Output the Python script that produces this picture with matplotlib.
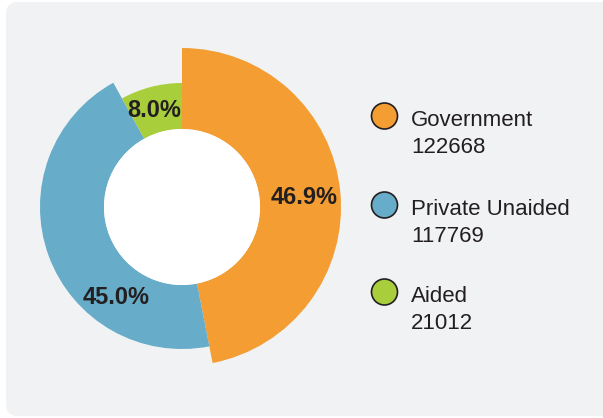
import matplotlib
matplotlib.use("Agg")
import matplotlib.pyplot as plt
from matplotlib.patches import Wedge, FancyBboxPatch, Circle
import numpy as np

# data
categories = ["Government", "Private Unaided", "Aided"]
counts = [122668, 117769, 21012]
colors = ["#f39d32", "#67acc8", "#a8ce3c"]

# look
outer_r = [159, 142, 124]
inner_r = 78
center = (182, 207)
label_ang = [4.6, 234, 106]
label_r = [123, 112, 100]
txt = "#231f20"

plt.rcParams["font.family"] = ["Liberation Sans", "DejaVu Sans"]

fig = plt.figure(figsize=(6.03, 4.18), dpi=100)
ax = fig.add_axes([0, 0, 1, 1])
ax.set_xlim(0, 603)
ax.set_ylim(418, 0)
ax.axis("off")

# background panel
ax.add_patch(FancyBboxPatch((6, 2), 620, 414, boxstyle="round,pad=0,rounding_size=12",
                            fc="#f1f2f4", ec="none"))

total = sum(counts)
fracs = [c / total for c in counts]

# clockwise from the top; y axis is flipped so angles go the other way on screen
start = -90.0
for i, f in enumerate(fracs):
    span = f * 360
    ax.add_patch(Wedge(center, outer_r[i], start, start + span,
                       width=outer_r[i] - inner_r, fc=colors[i], ec="none"))
    start += span

ax.add_patch(Circle(center, inner_r, fc="white", ec="none"))

for i, f in enumerate(fracs):
    a = np.deg2rad(label_ang[i])
    x = center[0] + label_r[i] * np.cos(a)
    y = center[1] - label_r[i] * np.sin(a)
    ax.text(x, y, f"{f * 100:.1f}%", ha="center", va="center",
            fontsize=17, fontweight="bold", color=txt)

# legend
leg_y = [116, 205, 292]
for i, name in enumerate(categories):
    ax.add_patch(Circle((384.5, leg_y[i]), 13, fc=colors[i], ec="#231f20", lw=1.2))
    ax.text(411, leg_y[i] + 10, name, ha="left", va="baseline", fontsize=16, color=txt)
    ax.text(411, leg_y[i] + 37, str(counts[i]), ha="left", va="baseline",
            fontsize=16, color=txt)

fig.savefig("out.png", dpi=100)
